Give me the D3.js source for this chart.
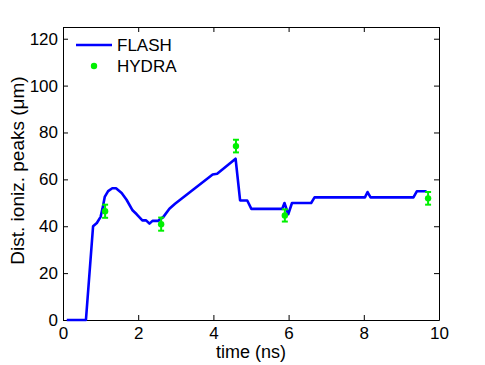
<!DOCTYPE html>
<html>
<head>
<meta charset="utf-8">
<script src="https://cdn.jsdelivr.net/npm/d3@7"></script>
<style>
  body { margin: 0; background: #fff; }
  svg text { font-family: "Liberation Sans", Arial, sans-serif; }
</style>
</head>
<body>
<svg id="chart" width="485" height="365"></svg>
<script>
// FLASH simulation curve (time in ns, distance in um)
const flashTime = [0.1, 0.61, 0.8, 0.9, 1.0, 1.05, 1.11, 1.2, 1.31, 1.41, 1.56, 1.69, 1.85, 1.96, 2.11, 2.21, 2.3, 2.38, 2.53, 2.67, 2.83, 2.98, 3.98, 4.1, 4.59, 4.71, 4.9, 5.01, 5.83, 5.89, 5.99, 6.09, 6.6, 6.69, 8.03, 8.1, 8.18, 9.32, 9.41, 9.67];
const flashDist = [0, 0, 40, 41.4, 44, 47.5, 52.5, 55, 56.2, 56.2, 54.2, 51.3, 46.8, 45.1, 42.5, 42.5, 41.1, 42.3, 42.3, 44, 47.5, 49.6, 62.1, 62.4, 68.8, 51, 51, 47.4, 47.4, 49.9, 45.1, 49.9, 49.9, 52.3, 52.3, 54.6, 52.3, 52.3, 54.9, 54.9];

// HYDRA points with error bars
const hydraTime = [1.12, 2.61, 4.6, 5.9, 9.71];
const hydraDist = [46.4, 40.9, 74.2, 44.6, 51.9];
const hydraErr = [2.8, 2.8, 2.7, 2.6, 2.7];

const xTicks = [0, 2, 4, 6, 8, 10];
const yTicks = [0, 20, 40, 60, 80, 100, 120];

const svg = d3.select("#chart");
const margin = {left: 63, right: 46, top: 27, bottom: 45};
const W = 485, H = 365;

const x = d3.scaleLinear().domain([0, 10]).range([margin.left, W - margin.right]);
const y = d3.scaleLinear().domain([0, 125]).range([H - margin.bottom, margin.top]);

// axes, ticks pointing inward
const tickLen = 5;
svg.append("g").attr("transform", `translate(0,${y(0)})`)
    .call(d3.axisBottom(x).tickValues(xTicks).tickSizeInner(-tickLen).tickSizeOuter(0).tickPadding(7));
svg.append("g").attr("transform", `translate(0,${y(125)})`)
    .call(d3.axisTop(x).tickValues(xTicks).tickSizeInner(-tickLen).tickSizeOuter(0).tickFormat(""));
svg.append("g").attr("transform", `translate(${x(0)},0)`)
    .call(d3.axisLeft(y).tickValues(yTicks).tickSizeInner(-tickLen).tickSizeOuter(0).tickPadding(5));
svg.append("g").attr("transform", `translate(${x(10)},0)`)
    .call(d3.axisRight(y).tickValues(yTicks).tickSizeInner(-tickLen).tickSizeOuter(0).tickFormat(""));

svg.selectAll(".domain").attr("stroke", "#000").attr("stroke-width", 1);
svg.selectAll(".tick line").attr("stroke", "#000");
svg.selectAll(".tick text").attr("font-size", 17).attr("fill", "#000")
    .style("font-family", "Liberation Sans, Arial, sans-serif");

// FLASH line
const line = d3.line().x(d => x(d[0])).y(d => y(d[1]));
svg.append("path")
    .datum(d3.zip(flashTime, flashDist))
    .attr("d", line)
    .attr("fill", "none")
    .attr("stroke", "#0000ff")
    .attr("stroke-width", 2.6)
    .attr("stroke-linejoin", "round");

// HYDRA error bars
const green = "#00f000";
const hydra = hydraTime.map((t, i) => ({t: t, d: hydraDist[i], e: hydraErr[i]}));
const eb = svg.append("g").attr("stroke", green).attr("stroke-width", 2);
eb.selectAll("line.v").data(hydra).enter().append("line")
    .attr("x1", d => x(d.t)).attr("x2", d => x(d.t))
    .attr("y1", d => y(d.d - d.e)).attr("y2", d => y(d.d + d.e));
eb.selectAll("line.top").data(hydra).enter().append("line")
    .attr("x1", d => x(d.t) - 3).attr("x2", d => x(d.t) + 3)
    .attr("y1", d => y(d.d + d.e)).attr("y2", d => y(d.d + d.e));
eb.selectAll("line.bot").data(hydra).enter().append("line")
    .attr("x1", d => x(d.t) - 3).attr("x2", d => x(d.t) + 3)
    .attr("y1", d => y(d.d - d.e)).attr("y2", d => y(d.d - d.e));
svg.selectAll("circle.h").data(hydra).enter().append("circle")
    .attr("cx", d => x(d.t)).attr("cy", d => y(d.d))
    .attr("r", 3.2).attr("fill", green);

// legend
const lg = svg.append("g");
lg.append("line").attr("x1", 76).attr("x2", 112).attr("y1", 45).attr("y2", 45)
    .attr("stroke", "#0000ff").attr("stroke-width", 2.6);
lg.append("text").attr("x", 117).attr("y", 51).attr("font-size", 17).text("FLASH");
lg.append("circle").attr("cx", 94).attr("cy", 66).attr("r", 3.2).attr("fill", green);
lg.append("text").attr("x", 117).attr("y", 72).attr("font-size", 17).text("HYDRA");

// axis labels
svg.append("text").attr("x", (x(0) + x(10)) / 2).attr("y", 358)
    .attr("text-anchor", "middle").attr("font-size", 18).text("time (ns)");
svg.append("text")
    .attr("transform", `translate(24,${(y(0) + y(125)) / 2 - 3}) rotate(-90)`)
    .attr("text-anchor", "middle").attr("font-size", 19).text("Dist. ioniz. peaks (\u03bcm)");
</script>
</body>
</html>
